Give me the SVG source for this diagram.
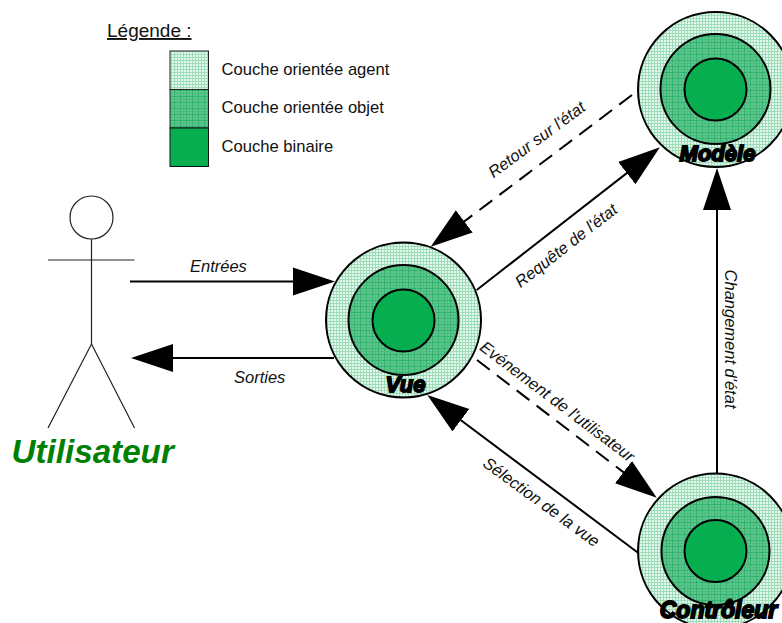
<svg xmlns="http://www.w3.org/2000/svg" width="782" height="623" viewBox="0 0 782 623">
<style>
text{font-family:"Liberation Sans",Arial,sans-serif;fill:#111}
.lab{font-size:16.5px;font-style:italic}
.leg{font-size:16.6px}
.name{font-size:22px;font-weight:bold;font-style:italic;stroke:#000;stroke-width:1.8px;fill:#000;text-anchor:middle}
.ring{stroke:#000;stroke-width:2}
.a{fill:url(#pa)}.o{fill:url(#po)}.b{fill:#07ae50}
.con{fill:none;stroke:#000;stroke-width:2;marker-end:url(#head)}
.dash{stroke-dasharray:16 9}
.fig{fill:none;stroke:#222;stroke-width:1.2}
</style>
<defs>
<pattern id="pa" width="3" height="3" patternUnits="userSpaceOnUse">
<rect width="3" height="3" fill="#e6f7ed"/><path d="M0 .5H3M.5 0V3" stroke="#9cdcb8" stroke-width="1"/>
</pattern>
<pattern id="po" width="6" height="6" patternUnits="userSpaceOnUse">
<rect width="6" height="6" fill="#62c78f"/><path d="M0 .5H6M.5 0V6" stroke="#2fb06c" stroke-width="1"/><path d="M0 3.500H6M3.500 0V6" stroke="#4abd7e" stroke-width="1"/>
</pattern>
<marker id="head" markerUnits="userSpaceOnUse" markerWidth="44" markerHeight="30" refX="37" refY="15" orient="auto" viewBox="0 0 44 30">
<path d="M0 1L42 15L0 29Z" fill="#000"/>
</marker>
</defs>
<g id="connectors">
<path class="con" d="M130 281.500H330"/>
<path class="con" d="M334 358H136"/>
<path class="con" d="M476.700 290L656 150.400"/>
<path class="con dash" d="M632 95L434.700 243.700"/>
<path class="con dash" d="M477 360L652.800 494.700"/>
<path class="con" d="M638 552.700L431.300 398"/>
<path class="con" d="M717 474V173"/>
</g>
<g id="legende">
<text x="107" y="37" font-size="19" text-decoration="underline">Légende :</text>
<rect x="170" y="51" width="38.500" height="38.500" class="a" stroke="#222" stroke-width="1"/>
<rect x="170" y="89.500" width="38.500" height="38.500" class="o" stroke="#222" stroke-width="1"/>
<rect x="170" y="128" width="38.500" height="38.500" class="b" stroke="#111" stroke-width="1"/>
<text class="leg" x="221.500" y="74.500">Couche orientée agent</text>
<text class="leg" x="221.500" y="113">Couche orientée objet</text>
<text class="leg" x="221.500" y="151.500">Couche binaire</text>
</g>
<g id="utilisateur">
<circle class="fig" cx="91.500" cy="217.500" r="21.500"/>
<path class="fig" d="M91.500 239V344M48 260H134.500M48 428L91.500 344L134.500 428"/>
<text x="11.500" y="463" font-size="33.200" font-weight="bold" font-style="italic" style="fill:#008000">Utilisateur</text>
</g>
<g id="vue">
<circle class="ring a" cx="403.500" cy="320" r="77.500"/>
<circle class="ring o" cx="403.500" cy="320" r="55"/>
<circle class="ring b" cx="403.500" cy="320.500" r="31"/>
<text class="name" x="405.500" y="392">Vue</text>
</g>
<g id="modele">
<circle class="ring a" cx="715.500" cy="89.500" r="77.500"/>
<circle class="ring o" cx="715.500" cy="89" r="55"/>
<circle class="ring b" cx="715.500" cy="89.500" r="31"/>
<text class="name" x="717.500" y="161">Modèle</text>
</g>
<g id="controleur">
<circle class="ring a" cx="715.500" cy="551" r="77.500"/>
<circle class="ring o" cx="715.500" cy="551" r="54"/>
<circle class="ring b" cx="715.500" cy="551" r="31"/>
<text class="name" x="718.500" y="617.500" style="font-size:23px">Contrôleur</text>
</g>
<g id="labels">
<text class="lab" x="190" y="271.500">Entrées</text>
<text class="lab" x="234" y="382.500">Sorties</text>
<text class="lab" text-anchor="middle" transform="translate(537 140) rotate(-36.500)" x="0" y="5">Retour sur l'état</text>
<text class="lab" text-anchor="middle" transform="translate(566.500 246) rotate(-38)" x="0" y="5">Requête de l'état</text>
<text class="lab" text-anchor="middle" transform="translate(557 402) rotate(37)" x="0" y="5">Evénement de l'utilisateur</text>
<text class="lab" text-anchor="middle" transform="translate(541 502.500) rotate(36)" x="0" y="5">Sélection de la vue</text>
<text class="lab" text-anchor="middle" transform="translate(730 339) rotate(90)" x="0" y="5">Changement d'état</text>
</g>
</svg>
